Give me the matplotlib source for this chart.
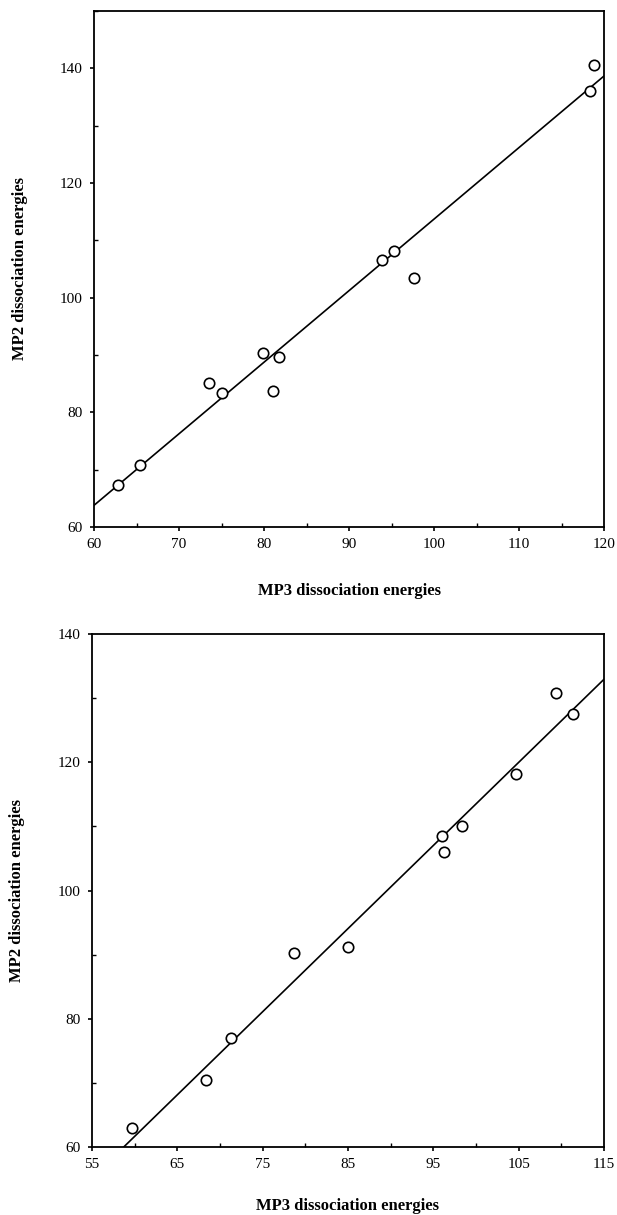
import matplotlib
matplotlib.use("Agg")
import matplotlib.pyplot as plt
import numpy as np
from matplotlib.ticker import MultipleLocator

# ---- data: top panel ----
top_mp3 = [62.8, 65.4, 73.5, 75.1, 79.9, 81.8, 81.0, 93.9, 95.3, 97.7, 118.8, 118.3]
top_mp2 = [67.3, 70.9, 85.2, 83.3, 90.3, 89.6, 83.8, 106.5, 108.1, 103.4, 140.5, 136.1]
top_fit = (1.248, -11.1)   # slope, intercept
top_xlim = (60, 120)
top_ylim = (60, 150)
top_xticks = [60, 70, 80, 90, 100, 110, 120]
top_yticks = [60, 80, 100, 120, 140]

# ---- data: bottom panel ----
bot_mp3 = [59.7, 68.4, 71.3, 78.7, 85.0, 96.0, 96.2, 98.4, 104.7, 109.4, 111.4]
bot_mp2 = [62.9, 70.5, 77.0, 90.2, 91.2, 108.5, 106.0, 110.0, 118.2, 130.8, 127.5]
bot_fit = (1.296, -16.1)
bot_xlim = (55, 115)
bot_ylim = (60, 140)
bot_xticks = [55, 65, 75, 85, 95, 105, 115]
bot_yticks = [60, 80, 100, 120, 140]

xlabel = "MP3 dissociation energies"
ylabel = "MP2 dissociation energies"

serif = ["Liberation Serif", "DejaVu Serif"]
W, H = 617, 1215
fig = plt.figure(figsize=(W / 100, H / 100), dpi=100)

def make_ax(left, right, top, bottom):
    return fig.add_axes([left / W, 1 - bottom / H, (right - left) / W, (bottom - top) / H])

def draw(ax, xs, ys, fit, xlim, ylim, xticks, yticks, xminor, yminor):
    ax.set_xlim(*xlim)
    ax.set_ylim(*ylim)
    xx = np.array(xlim, dtype=float)
    ax.plot(xx, fit[0] * xx + fit[1], color="black", lw=1.2, clip_on=True)
    ax.plot(xs, ys, linestyle="none", marker="o", markersize=7.5,
            markerfacecolor="white", markeredgecolor="black", markeredgewidth=1.2, zorder=3)
    ax.set_xticks(xticks)
    ax.set_yticks(yticks)
    ax.xaxis.set_minor_locator(MultipleLocator(xminor))
    ax.yaxis.set_minor_locator(MultipleLocator(yminor))
    ax.tick_params(which="major", direction="out", length=3, width=1.2, labelsize=11, pad=5)
    ax.tick_params(which="minor", direction="in", length=3, width=1.0)
    for lab in ax.get_xticklabels() + ax.get_yticklabels():
        lab.set_family(serif)
    for s in ax.spines.values():
        s.set_linewidth(1.3)
    ax.set_xlabel(xlabel, fontsize=12, fontweight="bold", family=serif)
    ax.set_ylabel(ylabel, fontsize=12, fontweight="bold", family=serif)

ax1 = make_ax(94, 604, 11, 527)
draw(ax1, top_mp3, top_mp2, top_fit, top_xlim, top_ylim, top_xticks, top_yticks, 5, 10)
ax1.xaxis.set_label_coords(0.5, -0.108)
ax1.yaxis.set_label_coords(-0.13, 0.5)

ax2 = make_ax(92, 604, 634, 1147)
draw(ax2, bot_mp3, bot_mp2, bot_fit, bot_xlim, bot_ylim, bot_xticks, bot_yticks, 5, 10)
ax2.xaxis.set_label_coords(0.5, -0.1)
ax2.yaxis.set_label_coords(-0.13, 0.5)

fig.savefig("out.png", dpi=100)
